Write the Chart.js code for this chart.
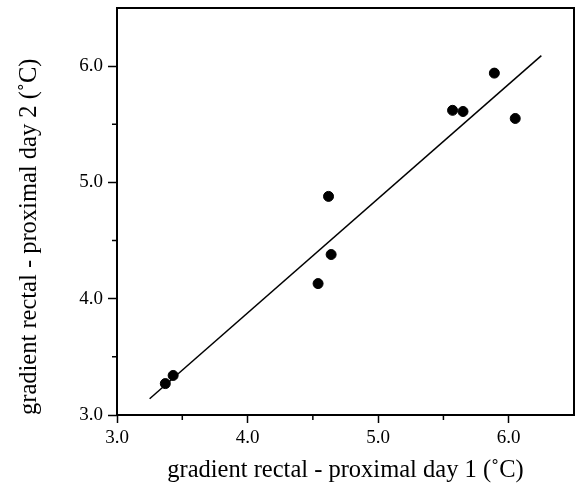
<!DOCTYPE html>
<html>
<head>
<meta charset="utf-8">
<script src="https://cdn.jsdelivr.net/npm/chart.js@4"></script>
<style>
  html, body { margin: 0; padding: 0; background: #fff; }
  #wrap { width: 575px; height: 492px; }
</style>
</head>
<body>
<div id="wrap"><canvas id="c"></canvas></div>
<script>
// data
const day1 = [3.37, 3.43, 4.54, 4.64, 4.62, 5.57, 5.65, 5.89, 6.05];
const day2 = [3.27, 3.34, 4.13, 4.38, 4.88, 5.62, 5.61, 5.94, 5.55];
// regression line end points
const fitX = [3.25, 6.25];
const fitY = [3.14, 6.09];
// axis ticks
const xTicks = [3.0, 4.0, 5.0, 6.0];
const yTicks = [3.0, 4.0, 5.0, 6.0];
const xMinor = [3.5, 4.5, 5.5];
const yMinor = [3.5, 4.5, 5.5];

const xTitle = 'gradient rectal - proximal day 1 (\u02DAC)';
const yTitle = 'gradient rectal - proximal day 2 (\u02DAC)';

const serif = 'Liberation Serif';

// frame box + short minor ticks
const framePlugin = {
    id: 'frame',
    afterDraw(chart) {
        const { ctx, chartArea: a, scales } = chart;
        ctx.save();
        ctx.strokeStyle = '#000';
        ctx.lineWidth = 2;
        ctx.strokeRect(a.left, a.top, a.right - a.left, a.bottom - a.top);
        ctx.lineWidth = 1.5;
        ctx.beginPath();
        xMinor.forEach(v => {
            const px = scales.x.getPixelForValue(v);
            ctx.moveTo(px, a.bottom);
            ctx.lineTo(px, a.bottom + 5);
        });
        yMinor.forEach(v => {
            const py = scales.y.getPixelForValue(v);
            ctx.moveTo(a.left, py);
            ctx.lineTo(a.left - 5, py);
        });
        ctx.stroke();
        ctx.restore();
    }
};

const pts = day1.map((x, i) => ({ x: x, y: day2[i] }));
const fit = fitX.map((x, i) => ({ x: x, y: fitY[i] }));

new Chart(document.getElementById('c'), {
    type: 'scatter',
    data: {
        datasets: [
            {
                label: 'fit',
                data: fit,
                showLine: true,
                borderColor: '#000',
                borderWidth: 1.5,
                pointRadius: 0,
                fill: false
            },
            {
                label: 'subjects',
                data: pts,
                backgroundColor: '#000',
                borderColor: '#000',
                pointBorderWidth: 1,
                pointRadius: 5,
                pointHoverRadius: 5
            }
        ]
    },
    options: {
        responsive: true,
        maintainAspectRatio: false,
        animation: false,
        layout: { autoPadding: false, padding: { left: 0, top: 8, right: 1, bottom: 0 } },
        plugins: {
            legend: { display: false },
            tooltip: { enabled: false }
        },
        scales: {
            x: {
                type: 'linear',
                min: 3.0,
                max: 6.5,
                afterBuildTicks: s => { s.ticks = xTicks.map(v => ({ value: v })); },
                afterFit: s => { s.height = 77; s.paddingLeft = 0; s.paddingRight = 0; },
                grid: {
                    drawOnChartArea: false,
                    drawTicks: true,
                    tickLength: 8,
                    tickWidth: 1.5,
                    tickColor: '#000'
                },
                border: { display: false },
                ticks: {
                    color: '#000',
                    padding: 4,
                    font: { family: serif, size: 19 },
                    callback: v => v.toFixed(1)
                },
                title: {
                    display: true,
                    text: xTitle,
                    color: '#000',
                    padding: 7,
                    font: { family: serif, size: 24.5 }
                }
            },
            y: {
                type: 'linear',
                min: 3.0,
                max: 6.5,
                afterBuildTicks: s => { s.ticks = yTicks.map(v => ({ value: v })); },
                afterFit: s => { s.width = 117; s.paddingTop = 0; s.paddingBottom = 0; },
                grid: {
                    drawOnChartArea: false,
                    drawTicks: true,
                    tickLength: 9,
                    tickWidth: 1.5,
                    tickColor: '#000'
                },
                border: { display: false },
                ticks: {
                    color: '#000',
                    padding: 5,
                    font: { family: serif, size: 19 },
                    callback: v => v.toFixed(1)
                },
                title: {
                    display: true,
                    text: yTitle,
                    align: 'start',
                    color: '#000',
                    padding: 15,
                    font: { family: serif, size: 24.5 }
                }
            }
        }
    },
    plugins: [framePlugin]
});
</script>
</body>
</html>
